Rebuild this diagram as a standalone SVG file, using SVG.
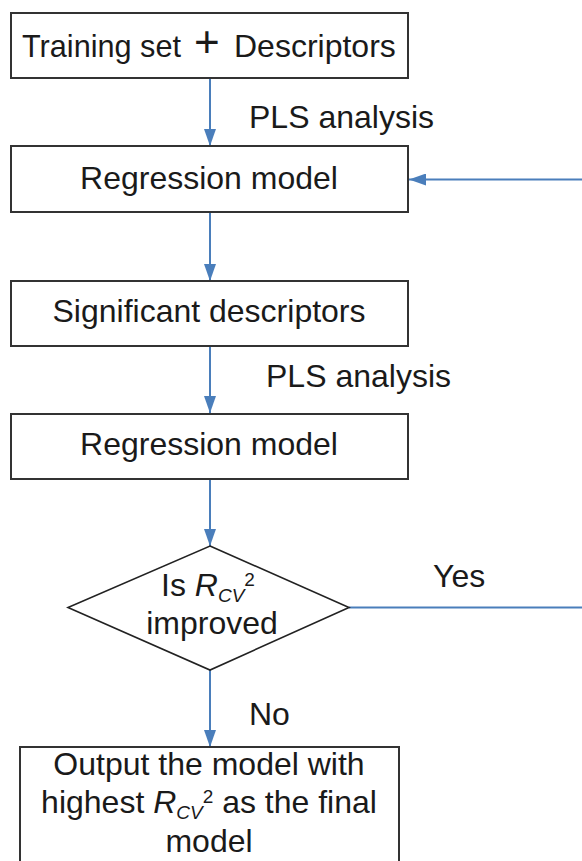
<svg xmlns="http://www.w3.org/2000/svg" width="582" height="861" viewBox="0 0 582 861">
  <style>
    .box { fill: #ffffff; stroke: #333333; stroke-width: 2; }
    .t { font-family: "Liberation Sans", Arial, sans-serif; font-size: 32px; fill: #1a1a1a; }
    .c { text-anchor: middle; }
    .it { font-style: italic; }
    .sub { font-style: italic; font-size: 19px; }
    .sup { font-size: 19px; }
    .conn { stroke: #4a7ebb; stroke-width: 2; fill: none; }
  </style>
  <defs>
    <marker id="ah" markerUnits="userSpaceOnUse" markerWidth="18" markerHeight="12" refX="17" refY="6" orient="auto">
      <path d="M0,0 L17,6 L0,12 Z" fill="#4a7ebb"/>
    </marker>
  </defs>

  <g id="connectors">
    <line class="conn" x1="210" y1="78" x2="210" y2="146" marker-end="url(#ah)"/>
    <line class="conn" x1="210" y1="212" x2="210" y2="281" marker-end="url(#ah)"/>
    <line class="conn" x1="210" y1="346" x2="210" y2="413" marker-end="url(#ah)"/>
    <line class="conn" x1="210" y1="479" x2="210" y2="546" marker-end="url(#ah)"/>
    <line class="conn" x1="210" y1="670" x2="210" y2="747" marker-end="url(#ah)"/>
    <line class="conn" x1="349" y1="607.5" x2="582" y2="607.5"/>
    <line class="conn" x1="582" y1="179.5" x2="409" y2="179.5" marker-end="url(#ah)"/>
    <text class="t" x="249" y="128">PLS analysis</text>
    <text class="t" x="266" y="387">PLS analysis</text>
    <text class="t" x="433" y="587">Yes</text>
    <text class="t" x="249" y="725">No</text>
  </g>

  <g id="training">
    <rect class="box" x="11" y="13" width="397" height="65"/>
    <text class="t" y="57"><tspan x="22" textLength="159" lengthAdjust="spacingAndGlyphs">Training set</tspan><tspan x="194" font-size="44">+</tspan><tspan x="234">Descriptors</tspan></text>
  </g>

  <g id="regression1">
    <rect class="box" x="11" y="146" width="397" height="66"/>
    <text class="t c" x="209" y="189">Regression model</text>
  </g>

  <g id="significant">
    <rect class="box" x="11" y="281" width="397" height="65"/>
    <text class="t c" x="209" y="322">Significant descriptors</text>
  </g>

  <g id="regression2">
    <rect class="box" x="11" y="414" width="397" height="65"/>
    <text class="t c" x="209" y="455">Regression model</text>
  </g>

  <g id="decision">
    <polygon points="210,546 349,607.5 210,670 68,607.5" fill="#ffffff" stroke="#222222" stroke-width="1.6"/>
    <text class="t c" x="208" y="596">Is <tspan class="it">R</tspan><tspan class="sub" dy="6">CV</tspan><tspan class="sup" dy="-16">2</tspan></text>
    <text class="t c" x="212" y="634">improved</text>
  </g>

  <g id="output">
    <path class="box" d="M20,870 L20,747 L399,747 L399,870"/>
    <text class="t c" x="209" y="775">Output the model with</text>
    <text class="t c" x="209" y="813">highest <tspan class="it">R</tspan><tspan class="sub" dy="6">CV</tspan><tspan class="sup" dy="-16">2</tspan><tspan dy="10"> as the final</tspan></text>
    <text class="t c" x="209" y="852">model</text>
  </g>
</svg>
